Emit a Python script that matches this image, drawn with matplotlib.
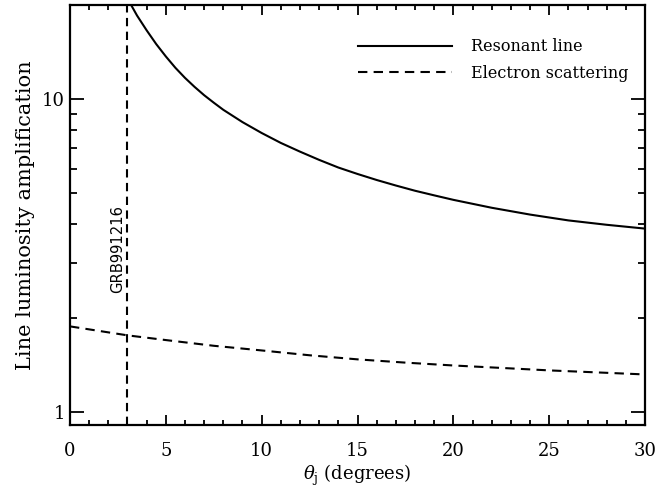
import numpy as np
import matplotlib
matplotlib.use("Agg")
import matplotlib.pyplot as plt
from matplotlib.ticker import FixedLocator, NullFormatter, FixedFormatter

# Data
theta_res = [3.15, 3.5, 4, 4.5, 5, 5.5, 6, 6.5, 7, 7.5, 8, 9, 10, 11, 12, 13, 14, 15,
             16, 17, 18, 19, 20, 22, 24, 26, 28, 30]
amp_res = [20.2, 18.5, 16.6, 15.0, 13.7, 12.6, 11.7, 10.95, 10.3, 9.75, 9.25, 8.45, 7.8,
           7.25, 6.8, 6.4, 6.05, 5.77, 5.52, 5.3, 5.1, 4.93, 4.77, 4.5, 4.28, 4.1, 3.97, 3.86]

theta_es = [0, 3, 5, 7.5, 10, 12.5, 15, 17.5, 20, 22.5, 25, 27.5, 30]
amp_es = [1.88, 1.76, 1.70, 1.63, 1.575, 1.52, 1.475, 1.44, 1.41, 1.385, 1.36, 1.34, 1.32]

grb_theta = 3.0
grb_label = "GRB991216"
legend_labels = ["Resonant line", "Electron scattering"]
xlabel = r"$\theta_{\rm j}$ (degrees)"
ylabel = "Line luminosity amplification"

plt.rcParams['font.family'] = ['DejaVu Serif']
plt.rcParams['mathtext.fontset'] = 'dejavuserif'

fig = plt.figure(figsize=(6.59, 4.87), dpi=100)
ax = fig.add_axes([0.1062, 0.1273, 0.9788 - 0.1062, 0.9897 - 0.1273])

ax.plot(theta_res, amp_res, color='black', lw=1.5, label=legend_labels[0])
ax.plot(theta_es, amp_es, color='black', lw=1.5, dashes=(4.5, 3.0), label=legend_labels[1])
ax.axvline(grb_theta, color='black', lw=1.5, dashes=(4.0, 2.6))
ax.text(2.5, 3.32, grb_label, rotation=90, ha='center', va='center',
        fontsize=10.6, family='DejaVu Sans')

ax.set_yscale('log')
ax.set_xlim(0, 30)
ax.set_ylim(0.91, 20)

ax.xaxis.set_major_locator(FixedLocator([0, 5, 10, 15, 20, 25, 30]))
ax.xaxis.set_minor_locator(FixedLocator(np.arange(0, 31, 1)))
ax.yaxis.set_major_locator(FixedLocator([1, 10]))
ax.yaxis.set_major_formatter(FixedFormatter(['1', '10']))
ax.yaxis.set_minor_locator(FixedLocator([2, 3, 4, 5, 6, 7, 8, 9, 20]))
ax.yaxis.set_minor_formatter(NullFormatter())

ax.tick_params(which='both', direction='in', top=True, right=True, width=1.3, labelsize=13)
ax.tick_params(which='major', axis='y', length=10)
ax.tick_params(which='minor', axis='y', length=5)
ax.tick_params(which='major', axis='x', length=7, pad=12)
ax.tick_params(which='minor', axis='x', length=3.5)
for s in ax.spines.values():
    s.set_linewidth(1.6)

ax.set_xlabel(xlabel, fontsize=13, labelpad=2)
ax.set_ylabel(ylabel, fontsize=15, labelpad=5)

leg = ax.legend(loc='upper left', bbox_to_anchor=(0.475, 0.955), frameon=False,
                fontsize=11.5, handlelength=5.9, handletextpad=1.2, labelspacing=0.6)

fig.savefig('out.png', dpi=100)
